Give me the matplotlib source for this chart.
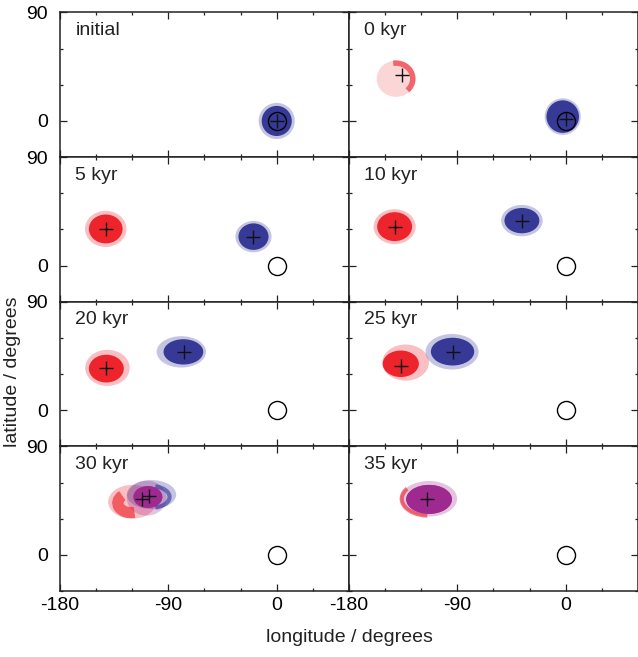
import numpy as np
import matplotlib
matplotlib.use("Agg")
import matplotlib.pyplot as plt
from matplotlib.patches import Ellipse, Arc

plt.rcParams['font.family'] = ['Liberation Sans', 'DejaVu Sans']
plt.rcParams['font.size'] = 14
plt.rcParams['axes.unicode_minus'] = False

panel_labels = ['initial', '0 kyr', '5 kyr', '10 kyr', '20 kyr', '25 kyr', '30 kyr', '35 kyr']

# mean positions (black crosses), degrees
cross_panel = [0, 1, 1, 2, 2, 3, 3, 4, 4, 5, 5, 6, 6, 7]
cross_lon = [0, -135.7, 0, -142, -19.3, -142.1, -36.4, -141.9, -77, -137.2, -93.8, -111.8, -106.3, -115.1]
cross_lat = [0, 38, 1.4, 30.4, 24, 32.3, 37.3, 35.1, 48.4, 37, 48.4, 46.7, 48.4, 46.1]

# starting point (open circle)
origin_lon = 0
origin_lat = 0

cloud_panel = [0, 0, 1, 1, 1, 2, 2, 2, 2, 3, 3, 3, 3,
               4, 4, 4, 4, 5, 5, 5, 5, 6, 6, 6, 6, 7, 7]
cloud_color = ['blue', 'blue', 'red', 'blue', 'blue', 'red', 'red', 'blue', 'blue',
               'red', 'red', 'blue', 'blue', 'red', 'red', 'blue', 'blue',
               'red', 'red', 'blue', 'blue', 'red', 'blue', 'purple', 'purple',
               'purple', 'purple']
cloud_layer = ['halo', 'core', 'faint', 'halo', 'core', 'halo', 'core', 'halo', 'core',
               'halo', 'core', 'halo', 'core', 'halo', 'core', 'halo', 'core',
               'halo', 'core', 'halo', 'core', 'halo', 'halo', 'halo', 'core',
               'halo', 'core']
cloud_lon = [0, 0, -141, -2.5, -2.5, -142, -142, -19.3, -19.3,
             -142.1, -142.1, -36.4, -36.4, -140.6, -141.5, -79.2, -77.5,
             -133, -137, -94.4, -94, -120, -104, -108, -107,
             -113.7, -113.5]
cloud_lat = [0, 0, 35, 3.6, 3.6, 30.4, 30.4, 24, 24,
             32.3, 32.3, 37.3, 37.3, 35.1, 34.5, 48.4, 48.4,
             39.5, 38.5, 48.5, 48.6, 44, 50, 47, 48,
             46.5, 46]
cloud_w = [30, 25, 32, 30, 27, 34.5, 28, 30, 25,
           35, 29, 34.5, 29, 37, 29, 41, 33,
           38.7, 30, 44, 36, 40, 41, 33, 24,
           47, 38]
cloud_h = [30, 25, 30, 30.4, 27, 30, 24, 26, 22,
           29, 24, 26, 21, 30, 23, 26, 21,
           30, 22, 29.5, 23, 28, 24, 29, 18,
           29.5, 24]

# dense rims (crescents): panel, colour, centre, extent, angle range
rim_panel = [1, 6, 6, 7]
rim_color = ['red', 'red', 'blue', 'red']
rim_lon = [-141, -121, -104, -113.7]
rim_lat = [35, 43, 48, 46.5]
rim_w = [28, 22, 30, 45]
rim_h = [26, 16, 18, 28]
rim_theta1 = [-45, 140, -70, 155]
rim_theta2 = [100, 290, 70, 265]
rim_width = [4, 8, 3, 3]

colors = {'red': '#ed1c24', 'blue': '#2e3192', 'purple': '#9e2a8f'}
alphas = {'faint': 0.18, 'halo': 0.28, 'core': 0.95}

fig, axes = plt.subplots(4, 2, figsize=(6.38, 6.57), dpi=100, sharex=True, sharey=True)
fig.subplots_adjust(left=0.094, right=1.0, top=0.981, bottom=0.1005, wspace=0, hspace=0)
axes = axes.flatten()

for i, ax in enumerate(axes):
    for j in range(len(cloud_panel)):
        if cloud_panel[j] != i:
            continue
        ax.add_patch(Ellipse((cloud_lon[j], cloud_lat[j]), cloud_w[j], cloud_h[j],
                             facecolor=colors[cloud_color[j]], edgecolor='none',
                             alpha=alphas[cloud_layer[j]], zorder=2))
    for j in range(len(rim_panel)):
        if rim_panel[j] != i:
            continue
        ax.add_patch(Arc((rim_lon[j], rim_lat[j]), rim_w[j], rim_h[j],
                         theta1=rim_theta1[j], theta2=rim_theta2[j],
                         color=colors[rim_color[j]], lw=rim_width[j],
                         alpha=0.6, zorder=2.5))
    # purple core of the late panels sits on top of the rims
    for j in range(len(cloud_panel)):
        if cloud_panel[j] == i and cloud_color[j] == 'purple' and cloud_layer[j] == 'core':
            ax.add_patch(Ellipse((cloud_lon[j], cloud_lat[j]), cloud_w[j], cloud_h[j],
                                 facecolor=colors['purple'], edgecolor='none',
                                 alpha=0.95, zorder=3))
    ax.plot(origin_lon, origin_lat, 'o', mfc='none', mec='k', ms=13, mew=1.0, zorder=4)
    for j in range(len(cross_panel)):
        if cross_panel[j] == i:
            ax.plot(cross_lon[j], cross_lat[j], '+', color='#111111', ms=10, mew=1.0, zorder=5)
    ax.text(0.053, 0.844, panel_labels[i], transform=ax.transAxes, ha='left', va='baseline',
            fontsize=14, color='#222222')

    ax.set_xlim(-180, 60)
    ax.set_ylim(-30, 90)
    ax.set_xticks([-180, -90, 0])
    ax.set_xticks(np.arange(-180, 61, 30), minor=True)
    ax.set_yticks([0, 90])
    ax.set_yticks([-30, 30, 60], minor=True)
    ax.tick_params(which='both', direction='in', top=True, right=True, width=0.9, color='#222222')
    ax.tick_params(which='major', length=5)
    ax.tick_params(which='minor', length=2.5)
    ax.tick_params(axis='y', pad=8.5, labelsize=14)
    ax.tick_params(axis='x', pad=4.5, labelsize=14)
    for s in ax.spines.values():
        s.set_linewidth(1.1)
        s.set_color('#222222')

fig.text(0.548, 0.0304, 'longitude / degrees', ha='center', va='center', fontsize=14, color='#222222')
fig.text(0.019, 0.434, 'latitude / degrees', ha='center', va='center', rotation=90,
         fontsize=14, color='#222222')

fig.savefig('out.png', dpi=100)
